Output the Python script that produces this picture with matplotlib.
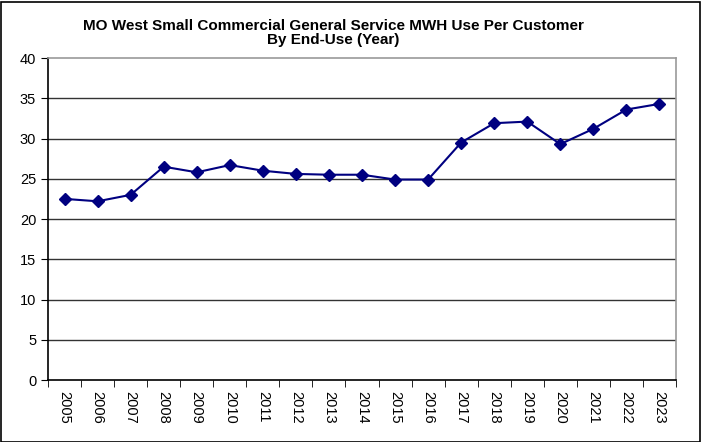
import matplotlib.pyplot as plt
from matplotlib.patches import Rectangle

plt.rcParams['font.family'] = ['Liberation Sans', 'DejaVu Sans']

years = [str(y) for y in range(2005, 2024)]
mwh = [22.5, 22.2, 23.0, 26.5, 25.8, 26.7, 26.0, 25.6, 25.5, 25.5,
       24.9, 24.9, 29.5, 31.9, 32.1, 29.3, 31.2, 33.6, 34.3]
yticks = [0, 5, 10, 15, 20, 25, 30, 35, 40]

fig = plt.figure(figsize=(7.01, 4.42), dpi=100)
ax = fig.add_axes([48 / 701, 1 - 380 / 442, 628 / 701, 322 / 442])

x = list(range(len(years)))
ax.plot(x, mwh, color='#000080', marker='D', markersize=6, linewidth=1.5)

ax.set_xlim(-0.5, len(years) - 0.5)
ax.set_ylim(0, 40)
ax.set_yticks(yticks)
ax.set_xticks(x)
ax.set_xticklabels(years, rotation=-90, fontsize=10.5)
ax.set_xticks([i + 0.5 for i in range(-1, len(years))], minor=True)
ax.tick_params(axis='x', which='major', length=0, pad=8)
ax.tick_params(axis='x', which='minor', length=5, direction='out', color='black')
ax.tick_params(axis='y', length=5, direction='out', labelsize=10.5, color='black')

for v in yticks[1:-1]:
    ax.axhline(v, color='#333333', linewidth=1, zorder=0)

ax.spines['left'].set_color('black')
ax.spines['bottom'].set_color('black')
ax.spines['top'].set_color('#999999')
ax.spines['right'].set_color('#999999')
for s in ax.spines.values():
    s.set_linewidth(1.2)

fig.text(333 / 701, 1 - 33 / 442,
         'MO West Small Commercial General Service MWH Use Per Customer\nBy End-Use (Year)',
         ha='center', va='center', fontsize=11, fontweight='bold', linespacing=1.05)

fig.patches.append(Rectangle((0.5 / 701, 0.5 / 442), 699 / 701, 440 / 442,
                             transform=fig.transFigure, fill=False,
                             edgecolor='black', linewidth=1.2))

fig.savefig('out.png', dpi=100)
